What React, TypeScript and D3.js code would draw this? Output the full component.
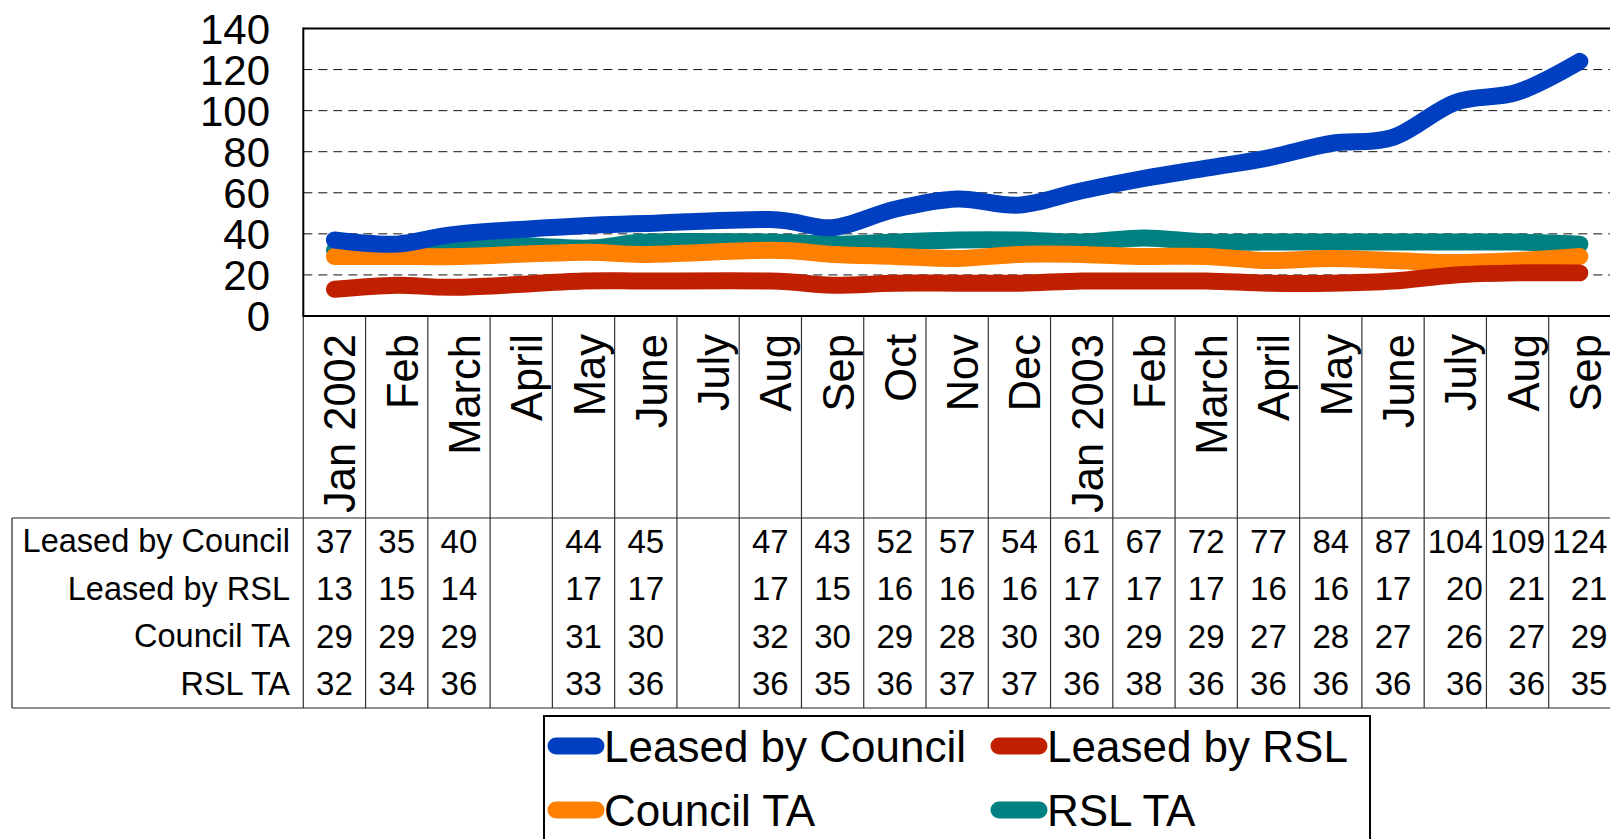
import React, { useEffect, useRef } from 'react';
import * as d3 from 'd3';

// months along the bottom (Jan 2002 - Sep 2003)
const months = [
  'Jan 2002', 'Feb', 'March', 'April', 'May', 'June', 'July', 'Aug', 'Sep', 'Oct', 'Nov', 'Dec',
  'Jan 2003', 'Feb', 'March', 'April', 'May', 'June', 'July', 'Aug', 'Sep',
];

// null = no figure for that month
const leasedByCouncil = [37, 35, 40, null, 44, 45, null, 47, 43, 52, 57, 54, 61, 67, 72, 77, 84, 87, 104, 109, 124];
const leasedByRSL = [13, 15, 14, null, 17, 17, null, 17, 15, 16, 16, 16, 17, 17, 17, 16, 16, 17, 20, 21, 21];
const councilTA = [29, 29, 29, null, 31, 30, null, 32, 30, 29, 28, 30, 30, 29, 29, 27, 28, 27, 26, 27, 29];
const rslTA = [32, 34, 36, null, 33, 36, null, 36, 35, 36, 37, 37, 36, 38, 36, 36, 36, 36, 36, 36, 35];

const seriesNames = ['Leased by Council', 'Leased by RSL', 'Council TA', 'RSL TA'];
const seriesColors = ['#0040c0', '#c02000', '#ff8000', '#008080'];

const yTicks = [0, 20, 40, 60, 80, 100, 120, 140];

const FONT = "'Liberation Sans', Arial, sans-serif";

export default function App() {
  const svgRef = useRef<SVGSVGElement>(null);

  useEffect(() => {
    if (!svgRef.current) return;
    const svg = d3.select(svgRef.current);
    svg.selectAll('*').remove();

    const W = 1610;
    const plotLeft = 303.3;
    const step = 62.27;
    const tableLeft = 12;
    const tableTop = 518;
    const tableBottom = 708;
    const rowH = (tableBottom - tableTop) / 4;

    const allSeries = [leasedByCouncil, leasedByRSL, councilTA, rslTA];

    const x = d3
      .scaleBand<number>()
      .domain(months.map((_, i) => i))
      .range([plotLeft, plotLeft + step * months.length])
      .padding(0);

    const y = d3.scaleLinear().domain([0, 140]).range([316, 28.5]);

    const cx = (i: number) => (x(i) || 0) + x.bandwidth() / 2;

    // dashed gridlines
    svg.append('g')
      .selectAll('line')
      .data(yTicks.filter(t => t > 0 && t < 140))
      .enter()
      .append('line')
      .attr('x1', plotLeft)
      .attr('x2', W)
      .attr('y1', d => y(d))
      .attr('y2', d => y(d))
      .attr('stroke', '#111')
      .attr('stroke-width', 1)
      .attr('stroke-dasharray', '9,6');

    // y tick labels
    svg.append('g')
      .selectAll('text')
      .data(yTicks)
      .enter()
      .append('text')
      .attr('x', 270)
      .attr('y', d => y(d))
      .attr('dy', '0.36em')
      .attr('text-anchor', 'end')
      .attr('font-family', FONT)
      .attr('font-size', 42)
      .attr('fill', '#000')
      .text(d => d);

    // column separators, from plot bottom through the table
    svg.append('g')
      .selectAll('line')
      .data(d3.range(months.length + 1))
      .enter()
      .append('line')
      .attr('x1', i => plotLeft + i * step)
      .attr('x2', i => plotLeft + i * step)
      .attr('y1', y(0))
      .attr('y2', tableBottom)
      .attr('stroke', '#333')
      .attr('stroke-width', 1.2);

    // table frame
    svg.append('line')
      .attr('x1', tableLeft).attr('x2', W)
      .attr('y1', tableTop).attr('y2', tableTop)
      .attr('stroke', '#222').attr('stroke-width', 1.2);
    svg.append('line')
      .attr('x1', tableLeft).attr('x2', W)
      .attr('y1', tableBottom).attr('y2', tableBottom)
      .attr('stroke', '#222').attr('stroke-width', 1.2);
    svg.append('line')
      .attr('x1', tableLeft).attr('x2', tableLeft)
      .attr('y1', tableTop).attr('y2', tableBottom)
      .attr('stroke', '#222').attr('stroke-width', 1.2);

    // category labels (rotated)
    svg.append('g')
      .selectAll('text')
      .data(months)
      .enter()
      .append('text')
      .attr('transform', (_, i) => `translate(${cx(i) + 21},334) rotate(-90)`)
      .attr('text-anchor', 'end')
      .attr('font-family', FONT)
      .attr('font-size', 43.5)
      .attr('fill', '#000')
      .text(d => d);

    // table row labels
    svg.append('g')
      .selectAll('text')
      .data(seriesNames)
      .enter()
      .append('text')
      .attr('x', 290)
      .attr('y', (_, r) => tableTop + rowH * (r + 0.5))
      .attr('dy', '0.33em')
      .attr('text-anchor', 'end')
      .attr('font-family', FONT)
      .attr('font-size', 32.5)
      .attr('fill', '#000')
      .text(d => d);

    // table values: centred block per column, numbers right-aligned inside it
    const digitW = 33 * 0.556;
    months.forEach((_, i) => {
      const widest = d3.max(allSeries, s => (s[i] == null ? 0 : String(s[i]).length)) || 0;
      if (!widest) return;
      const right = cx(i) + (widest * digitW) / 2;
      allSeries.forEach((s, r) => {
        if (s[i] == null) return;
        svg.append('text')
          .attr('x', right)
          .attr('y', tableTop + rowH * (r + 0.5))
          .attr('dy', '0.33em')
          .attr('text-anchor', 'end')
          .attr('font-family', FONT)
          .attr('font-size', 33)
          .attr('fill', '#000')
          .text(String(s[i]));
      });
    });

    // series lines, smoothed, gaps bridged
    const line = d3
      .line<[number, number]>()
      .x(d => cx(d[0]))
      .y(d => y(d[1]))
      .curve(d3.curveCardinal.tension(0));

    [3, 2, 1, 0].forEach(k => {
      const pts = allSeries[k]
        .map((v, i) => [i, v] as [number, number | null])
        .filter(d => d[1] != null) as [number, number][];
      svg.append('path')
        .datum(pts)
        .attr('d', line)
        .attr('fill', 'none')
        .attr('stroke', seriesColors[k])
        .attr('stroke-width', 17)
        .attr('stroke-linecap', 'round')
        .attr('stroke-linejoin', 'round');
    });

    // plot frame
    svg.append('line')
      .attr('x1', plotLeft).attr('x2', W)
      .attr('y1', y(140)).attr('y2', y(140))
      .attr('stroke', '#000').attr('stroke-width', 2);
    svg.append('line')
      .attr('x1', plotLeft).attr('x2', W)
      .attr('y1', y(0)).attr('y2', y(0))
      .attr('stroke', '#000').attr('stroke-width', 2);
    svg.append('line')
      .attr('x1', plotLeft).attr('x2', plotLeft)
      .attr('y1', y(140) - 1).attr('y2', y(0) + 1)
      .attr('stroke', '#000').attr('stroke-width', 2);

    // legend
    const legend = svg.append('g');
    legend.append('rect')
      .attr('x', 544)
      .attr('y', 716)
      .attr('width', 826)
      .attr('height', 160)
      .attr('fill', '#fff')
      .attr('stroke', '#000')
      .attr('stroke-width', 2);

    const legendPos = [
      [556, 746],
      [999, 746],
      [556, 810],
      [999, 810],
    ];
    seriesNames.forEach((name, k) => {
      const [lx, ly] = legendPos[k];
      legend.append('line')
        .attr('x1', lx)
        .attr('x2', lx + 40)
        .attr('y1', ly)
        .attr('y2', ly)
        .attr('stroke', seriesColors[k])
        .attr('stroke-width', 17)
        .attr('stroke-linecap', 'round');
      legend.append('text')
        .attr('x', lx + 48)
        .attr('y', ly)
        .attr('dy', '0.36em')
        .attr('font-family', FONT)
        .attr('font-size', 44)
        .attr('fill', '#000')
        .text(name);
    });
  }, []);

  return (
    <div style={{ position: 'absolute', left: 0, top: 0, width: 1610, height: 839, overflow: 'hidden' }}>
      <svg ref={svgRef} width={1610} height={839}></svg>
    </div>
  );
}
